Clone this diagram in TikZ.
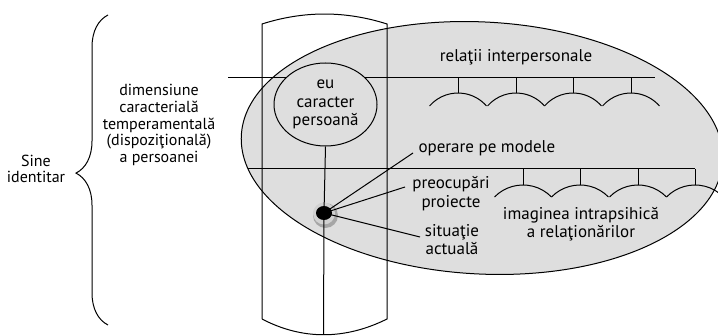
\documentclass[tikz,border=0pt]{standalone}
\usepackage{fontspec}
\setmainfont{PT Sans}
\usetikzlibrary{shapes.geometric,decorations.pathreplacing}
\definecolor{fillgray}{RGB}{222,222,222}
\begin{document}
\begin{tikzpicture}[x=1pt,y=-1pt,line width=1pt,
  lbl/.style={font=\fontsize{17}{18.5}\selectfont,align=center,inner sep=0pt},
  lbltight/.style={font=\fontsize{16}{16.7}\selectfont,align=center,inner sep=0pt}]
\useasboundingbox (0,0) rectangle (718,336);
% big ellipse
\fill[fillgray,rotate around={-3:(482,148)}] (482,148) ellipse[x radius=241,y radius=126];
\draw[rotate around={-3:(482,148)}] (482,148) ellipse[x radius=241,y radius=126];
% cylinder
\coordinate (cyltl) at (262,24);
\coordinate (cyltr) at (387,24);
\coordinate (cylbl) at (262,319);
\coordinate (cylbr) at (387,319);
\coordinate (cylbot) at (323.5,335);
\draw (cylbl) -- (cyltl) .. controls (303.7,10.7) and (345.3,10.7) .. (cyltr) -- (cylbr)
      .. controls (345,340) and (302,340) .. (cylbl);
% horizontal lines
\coordinate (l1a) at (228,78);
\coordinate (l1b) at (655,78);
\coordinate (l2a) at (248,169);
\coordinate (l2b) at (695,169);
\draw (l1a) -- (l1b);
\draw (l2a) -- (l2b);
% ticks and arcs top
\foreach \c in {458,516,573,631}{
  \draw (\c,78) -- (\c,93);
  \draw (\c-28.5,106) arc[start angle=220.97,end angle=319.03,radius=37.74];
}
% ticks and arcs bottom
\foreach \c in {523,580,638,695}{
  \draw (\c,169) -- (\c,185);
  \draw (\c-28.5,197) arc[start angle=224.33,end angle=315.67,radius=39.84];
}
% eu ellipse
\node[ellipse,draw,fill=fillgray,minimum width=103pt,minimum height=83pt,inner sep=0pt,lbl] (eu) at (325.5,104.5) {eu\\caracter\\persoană};
% dot
\fill[black!35] (325.5,215.5) circle[radius=12.5];
\fill[black!18] (324,213.5) circle[radius=11];
\node[ellipse,fill=black,minimum width=16pt,minimum height=14pt,inner sep=0pt] (dot) at (324,213) {};
\draw (eu.south) -- (dot.center) -- (cylbot);
% labels
\node[lbl,anchor=west] (op) at (418,148) {operare pe modele};
\node[lbl] (pre) at (451,193.5) {preocupări\\proiecte};
\node[lbl] (sit) at (452,239.5) {situaţie\\actuală};
\node[lbl] (rel) at (516,57) {relaţii interpersonale};
\node[lbl] (img) at (581,224) {imaginea intrapsihică\\a relaţionărilor};
\coordinate (opend) at (413,153);
\coordinate (preend) at (405,187);
\coordinate (sitend) at (420,237);
\draw (dot.center) -- (opend);
\draw (dot.center) -- (preend);
\draw (dot.center) -- (sitend);
% left texts
\node[lbltight] (dim) at (159,125) {dimensiune\\caracterială\\temperamentală\\(dispoziţională)\\a persoanei};
\node[lbltight] (sine) at (36,169) {Sine\\identitar};
\coordinate (brb) at (108,325);
\coordinate (brt) at (108,15);
\draw[decorate,decoration={brace,amplitude=32pt,aspect=0.49}] (brb) -- (brt);
\end{tikzpicture}
\end{document}
